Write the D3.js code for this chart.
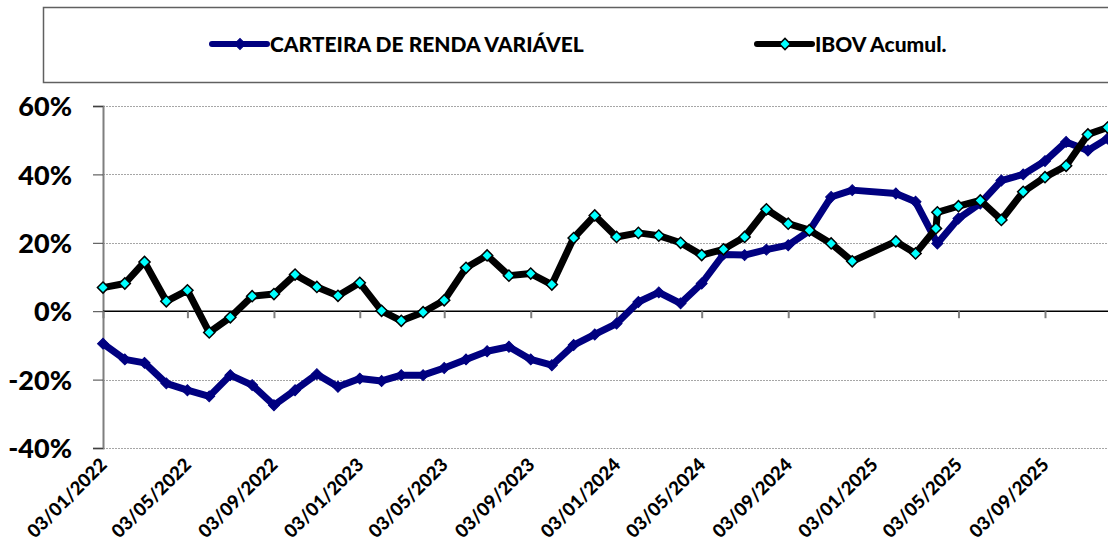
<!DOCTYPE html>
<html>
<head>
<meta charset="utf-8">
<script src="https://cdn.jsdelivr.net/npm/d3@7"></script>
<style>
    body { margin: 0; background: #fff; }
    svg { display: block; font-family: Lato, 'Open Sans', sans-serif; font-weight: 900; }
    .grid line { stroke: #a6a6a6; stroke-width: 1; stroke-dasharray: 2, 1; }
    .legend-text { font-size: 21px; fill: #000; }
    .x-label { font-size: 18.5px; fill: #000; }
</style>
</head>
<body>
<svg id="chart" width="1108" height="545"></svg>
<script>
// monthly dates (Jan/2025 missing in the source, two points at the start of Apr/2025)
const dates = [
    '2022-01-03', '2022-02-03', '2022-03-03', '2022-04-03', '2022-05-03', '2022-06-03',
    '2022-07-03', '2022-08-03', '2022-09-03', '2022-10-03', '2022-11-03', '2022-12-03',
    '2023-01-03', '2023-02-03', '2023-03-03', '2023-04-03', '2023-05-03', '2023-06-03',
    '2023-07-03', '2023-08-03', '2023-09-03', '2023-10-03', '2023-11-03', '2023-12-03',
    '2024-01-03', '2024-02-03', '2024-03-03', '2024-04-03', '2024-05-03', '2024-06-03',
    '2024-07-03', '2024-08-03', '2024-09-03', '2024-10-03', '2024-11-03', '2024-12-03',
    '2025-02-03', '2025-03-03', '2025-04-01', '2025-04-03', '2025-05-03', '2025-06-03',
    '2025-07-03', '2025-08-03', '2025-09-03', '2025-10-03', '2025-11-03', '2025-12-01'
]

const carteira = [
    -9.5, -14.1, -15.1, -21.1, -23.1, -24.9, -18.7, -21.6, -27.5, -23.1, -18.4, -22.1,
    -19.7, -20.4, -18.7, -18.7, -16.6, -14.1, -11.7, -10.4, -14.1, -15.8, -9.9, -6.8,
    -3.6, 2.7, 5.5, 2.3, 8.1, 16.6, 16.4, 18.0, 19.3, 23.5, 33.4, 35.4,
    34.4, 32.0, null, 19.8, 27.1, 31.5, 38.2, 40.0, 43.9, 49.5, 47.0, 50.5
]

const ibov = [
    6.9, 8.1, 14.4, 2.9, 6.1, -6.2, -1.8, 4.4, 5.0, 10.7, 7.1, 4.5,
    8.3, 0.1, -2.8, -0.3, 3.2, 12.7, 16.3, 10.4, 11.0, 7.8, 21.4, 28.0,
    21.7, 22.9, 22.1, 20.0, 16.4, 18.1, 21.7, 29.8, 25.6, 23.7, 19.8, 14.6,
    20.4, 16.9, 24.2, 28.9, 30.7, 32.4, 26.7, 34.9, 39.2, 42.5, 51.7, 53.7
]

const xTickLabels = [
    '03/01/2022', '03/05/2022', '03/09/2022', '03/01/2023', '03/05/2023', '03/09/2023',
    '03/01/2024', '03/05/2024', '03/09/2024', '03/01/2025', '03/05/2025', '03/09/2025'
]
const yTicks = [-40, -20, 0, 20, 40, 60]

const seriesNames = ['CARTEIRA DE RENDA VARIÁVEL', 'IBOV Acumul.']

const parseDate = d3.timeParse('%Y-%m-%d'),
    parseTick = d3.timeParse('%d/%m/%Y')

const $svg = d3.select('#chart')

const PLOT = { left: 103, right: 1108, top: 106, bottom: 448 }

const xScale = d3.scaleTime()
    .domain([parseTick('03/01/2022'), parseTick('03/09/2025')])
    .range([103, 1045])
const yScale = d3.scaleLinear()
    .domain([-40, 60])
    .range([PLOT.bottom, PLOT.top])

// legend box
$svg.append('rect')
    .attr('x', 43.5).attr('y', 7.5)
    .attr('width', 1080).attr('height', 75)
    .attr('fill', '#fff')
    .attr('stroke', '#606060')
    .attr('stroke-width', 1.5)

// gridlines
const grid = $svg.append('g').attr('class', 'grid')
grid.selectAll('line')
    .data(yTicks.filter(d => d !== 0))
    .join('line')
    .attr('x1', PLOT.left).attr('x2', PLOT.right)
    .attr('y1', d => Math.round(yScale(d)) + 0.5)
    .attr('y2', d => Math.round(yScale(d)) + 0.5)

// y axis
const yAxis = $svg.append('g')
    .attr('transform', `translate(${PLOT.left}, 0)`)
    .call(d3.axisLeft(yScale).tickValues(yTicks).tickSize(10).tickFormat(d => d + '%'))
yAxis.select('.domain').attr('stroke', '#7f7f7f').attr('stroke-width', 2)
yAxis.selectAll('.tick line').attr('stroke', '#404040').attr('stroke-width', 1)
yAxis.selectAll('.tick text')
    .attr('x', -31)
    .attr('dy', '0.36em')
    .attr('fill', '#000')
    .style('font-family', 'Lato, sans-serif')
    .style('font-size', '27px')
    .style('font-weight', '900')

// zero line with date ticks
const xAxis = $svg.append('g')
    .attr('transform', `translate(0, ${yScale(0)})`)
    .call(d3.axisBottom(xScale)
        .tickValues(xTickLabels.map(parseTick))
        .tickSize(7)
        .tickFormat(''))
xAxis.select('.domain').attr('stroke', '#000').attr('stroke-width', 1.5)
    .attr('d', `M${PLOT.left},0H${PLOT.right}`)
xAxis.selectAll('.tick line').attr('stroke', '#7f7f7f').attr('stroke-width', 2)

// rotated date labels under the plot
$svg.append('g')
    .selectAll('text')
    .data(xTickLabels)
    .join('text')
    .attr('class', 'x-label')
    .attr('text-anchor', 'end')
    .attr('transform', d => `translate(${xScale(parseTick(d)) + 5}, ${PLOT.bottom + 18}) rotate(-45)`)
    .text(d => d)

const lineGen = d3.line()
    .x(d => xScale(d.date))
    .y(d => yScale(d.value))

function buildSeries(values) {
    return dates
        .map((d, i) => ({ date: parseDate(d), value: values[i] }))
        .filter(d => d.value !== null)
}

const diamond = d3.symbol().type(d3.symbolSquare)

const styles = [
    { values: carteira, stroke: '#000080', fill: '#000080', markerStroke: '#000080', size: 60, markerWidth: 1 },
    { values: ibov, stroke: '#000000', fill: '#00ffff', markerStroke: '#000000', size: 62, markerWidth: 1.5 }
]

styles.forEach(s => {
    const data = buildSeries(s.values)
    const g = $svg.append('g')
    g.append('path')
        .datum(data)
        .attr('d', lineGen)
        .attr('fill', 'none')
        .attr('stroke', s.stroke)
        .attr('stroke-width', 7)
        .attr('stroke-linejoin', 'round')
    g.selectAll('path.marker')
        .data(data)
        .join('path')
        .attr('class', 'marker')
        .attr('d', diamond.size(s.size))
        .attr('transform', d => `translate(${xScale(d.date)}, ${yScale(d.value)}) rotate(45)`)
        .attr('fill', s.fill)
        .attr('stroke', s.markerStroke)
        .attr('stroke-width', s.markerWidth)
})

// legend entries
const legendPos = [{ x: 212, tx: 270 }, { x: 757, tx: 815 }]
const legend = $svg.append('g')
legendPos.forEach((p, i) => {
    const s = styles[i]
    legend.append('line')
        .attr('x1', p.x).attr('x2', p.x + 55)
        .attr('y1', 44).attr('y2', 44)
        .attr('stroke', s.stroke)
        .attr('stroke-width', 6)
        .attr('stroke-linecap', 'round')
    legend.append('path')
        .attr('d', diamond.size(s.size))
        .attr('transform', `translate(${p.x + 28}, 44) rotate(45)`)
        .attr('fill', s.fill)
        .attr('stroke', s.markerStroke)
        .attr('stroke-width', s.markerWidth)
    legend.append('text')
        .attr('class', 'legend-text')
        .attr('x', p.tx)
        .attr('y', 44)
        .attr('dy', '0.36em')
        .text(seriesNames[i])
})
</script>
</body>
</html>
